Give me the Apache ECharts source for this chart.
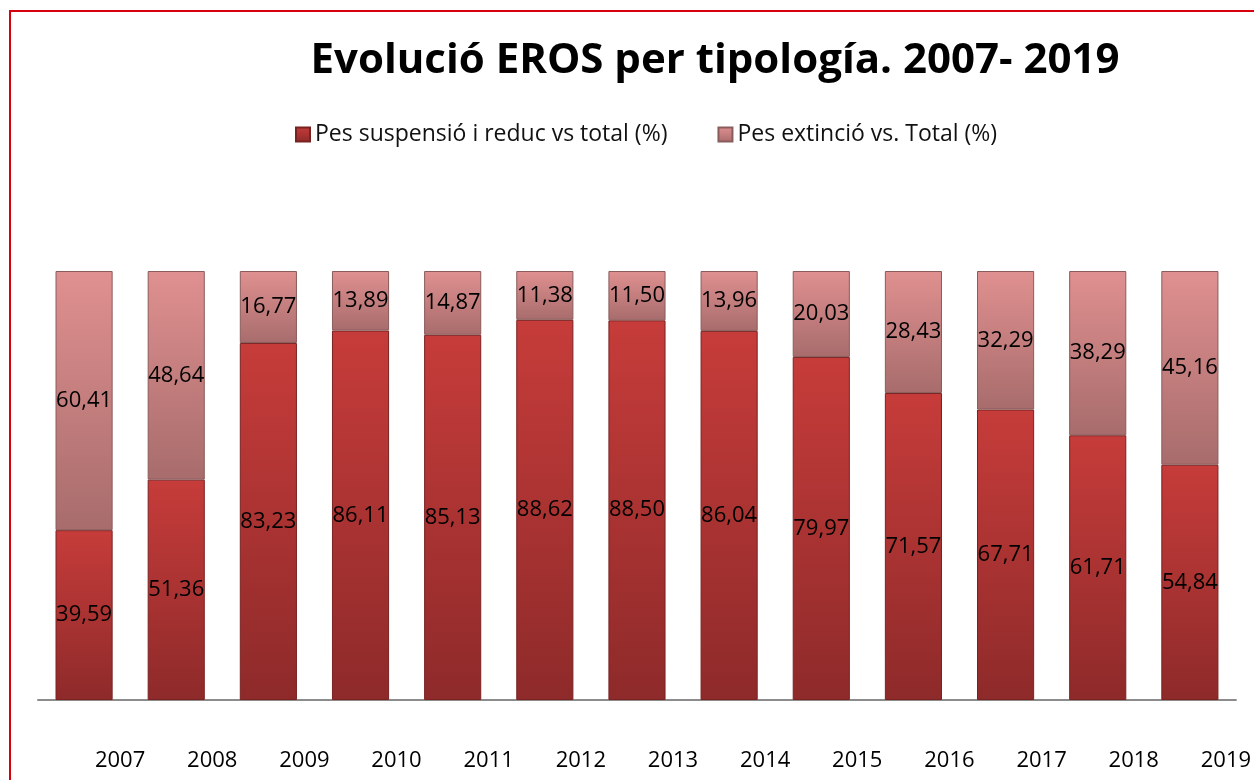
<!DOCTYPE html>
<html>
<head>
<meta charset="UTF-8">
<title>Evolució EROS</title>
<script src="https://cdn.jsdelivr.net/npm/echarts@6/dist/echarts.min.js"></script>
<style>
	html, body { margin: 0; padding: 0; background: #fff; }
	#frame { position: absolute; left: 9px; top: 10px; width: 1260px; height: 800px;
		border-left: 2px solid #d9000d; border-top: 2px solid #d9000d; }
	#chart { position: absolute; left: 0; top: 0; width: 1254px; height: 780px; }
</style>
</head>
<body>
	<div id="frame"></div>
	<div id="chart"></div>
	<script type="text/javascript">
		var years = ['2007', '2008', '2009', '2010', '2011', '2012', '2013', '2014', '2015', '2016', '2017', '2018', '2019'];
		var suspensio = [39.59, 51.36, 83.23, 86.11, 85.13, 88.62, 88.50, 86.04, 79.97, 71.57, 67.71, 61.71, 54.84];
		var extincio = [60.41, 48.64, 16.77, 13.89, 14.87, 11.38, 11.50, 13.96, 20.03, 28.43, 32.29, 38.29, 45.16];
		var seriesNames = ['Pes suspensió i reduc vs total (%)', 'Pes extinció vs. Total (%)'];

		function fmt(p) {
			return p.value.toFixed(2).replace('.', ',');
		}

		var chart = echarts.init(document.getElementById('chart'));
		chart.setOption({
			animation : false,
			title : {
				text : 'Evolució EROS per tipología. 2007- 2019',
				left : 710,
				textAlign : 'center',
				top : 35,
				textStyle : {
					fontFamily : 'Open Sans',
					fontWeight : 'bold',
					fontSize : 42,
					color : '#000'
				}
			},
			legend : {
				data : seriesNames,
				left : 290,
				top : 118,
				itemWidth : 14,
				itemHeight : 14,
				itemGap : 50,
				icon : 'rect',
				textStyle : {
					fontFamily : 'Open Sans',
					fontSize : 23,
					color : '#111'
				}
			},
			grid : {
				left : 38,
				right : 17,
				top : 271,
				bottom : 80
			},
			xAxis : {
				type : 'category',
				data : years,
				axisLine : { lineStyle : { color : '#8c8c8c', width : 2 } },
				axisTick : { show : false },
				axisLabel : {
					margin : 50,
					padding : [0, 0, 0, 72],
					fontFamily : 'Open Sans',
					fontSize : 22,
					color : '#000'
				}
			},
			yAxis : {
				type : 'value',
				min : 0,
				max : 100,
				show : false
			},
			series : [ {
				name : seriesNames[0],
				type : 'bar',
				stack : 'total',
				barCategoryGap : '38%',
				itemStyle : {
					color : new echarts.graphic.LinearGradient(0, 0, 0, 1, [
						{ offset : 0, color : '#c63c3a' },
						{ offset : 1, color : '#8e2a2a' } ]),
					borderColor : '#7a2222',
					borderWidth : 1
				},
				label : {
					show : true,
					position : 'inside',
					formatter : fmt,
					fontFamily : 'Open Sans',
					fontSize : 22,
					color : '#000'
				},
				data : suspensio
			}, {
				name : seriesNames[1],
				type : 'bar',
				stack : 'total',
				itemStyle : {
					color : new echarts.graphic.LinearGradient(0, 0, 0, 1, [
						{ offset : 0, color : '#e09090' },
						{ offset : 1, color : '#a86c6c' } ]),
					borderColor : '#8a5c5c',
					borderWidth : 1
				},
				label : {
					show : true,
					position : 'inside',
					formatter : fmt,
					fontFamily : 'Open Sans',
					fontSize : 22,
					color : '#000'
				},
				data : extincio
			} ]
		});
	</script>
</body>
</html>
